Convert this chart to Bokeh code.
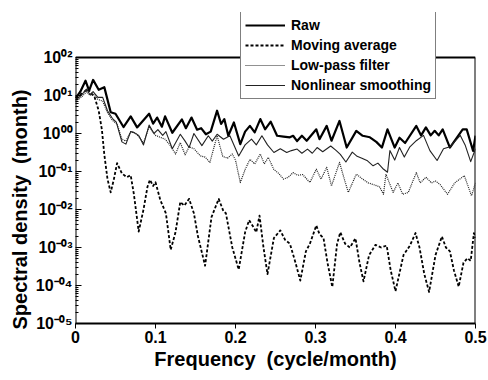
import numpy as np
from bokeh.plotting import figure
from bokeh.models import FixedTicker, Legend, LegendItem, Title
from bokeh.embed import file_html
from bokeh.resources import INLINE

# ---- data (log10 of spectral density) ----
raw_f = [0.000, 0.006, 0.0125, 0.017, 0.022, 0.029, 0.036, 0.044, 0.050, 0.060, 0.069, 0.077,
         0.092, 0.097, 0.102, 0.108, 0.112, 0.121, 0.133, 0.138, 0.145, 0.152, 0.157, 0.163,
         0.169, 0.177, 0.182, 0.186, 0.191, 0.198, 0.206, 0.212, 0.218, 0.224, 0.231, 0.237,
         0.244, 0.252, 0.260, 0.268, 0.272, 0.277, 0.283, 0.289, 0.301, 0.305, 0.314, 0.320,
         0.330, 0.339, 0.351, 0.359, 0.368, 0.376, 0.383, 0.390, 0.399, 0.405, 0.412, 0.426,
         0.432, 0.438, 0.444, 0.449, 0.454, 0.459, 0.468, 0.484, 0.489, 0.497, 0.500]
raw_log10 = [0.92, 1.10, 1.39, 1.13, 1.41, 1.15, 1.22, 0.56, 0.52, 0.17, 0.45, 0.16,
             0.52, 0.26, 0.42, 0.18, 0.45, 0.02, 0.37, 0.14, 0.42, 0.10, 0.14, -0.02,
             0.05, 0.60, 0.25, 0.38, -0.06, 0.29, -0.28, 0.05, 0.20, 0.03, 0.38, 0.11,
             0.31, -0.06, -0.08, -0.10, -0.06, -0.20, -0.06, -0.19, 0.11, -0.15, 0.20, -0.19,
             0.33, -0.37, 0.07, -0.06, -0.10, -0.22, -0.37, 0.11, -0.37, -0.11, -0.25, 0.20,
             -0.05, 0.16, -0.05, 0.07, -0.05, 0.11, -0.37, 0.11, 0.11, -0.46, -0.06]

ma_f = [0.000, 0.008, 0.015, 0.020, 0.024, 0.029, 0.033, 0.036, 0.040, 0.044, 0.048, 0.052,
        0.058, 0.064, 0.069, 0.073, 0.079, 0.085, 0.090, 0.093, 0.097, 0.100, 0.106, 0.113,
        0.119, 0.125, 0.131, 0.136, 0.142, 0.148, 0.153, 0.162, 0.170, 0.179, 0.185, 0.188,
        0.196, 0.204, 0.212, 0.217, 0.222, 0.226, 0.230, 0.235, 0.240, 0.248, 0.256, 0.262,
        0.268, 0.275, 0.281, 0.288, 0.293, 0.301, 0.305, 0.310, 0.315, 0.321, 0.327, 0.331,
        0.337, 0.343, 0.350, 0.355, 0.360, 0.367, 0.375, 0.382, 0.389, 0.394, 0.400, 0.410,
        0.418, 0.425, 0.430, 0.436, 0.442, 0.450, 0.458, 0.463, 0.468, 0.473, 0.479, 0.485,
        0.490, 0.494, 0.498, 0.500]
ma_log10 = [0.96, 1.05, 1.17, 1.05, 0.95, 0.60, 0.10, -0.55, -1.20, -1.55, -1.20, -0.78,
            -1.05, -1.15, -1.10, -1.60, -2.58, -2.00, -1.40, -1.22, -1.38, -1.28, -1.75, -2.10,
            -3.06, -2.60, -1.80, -1.90, -1.72, -2.10, -2.70, -3.48, -2.20, -1.72, -2.05, -2.10,
            -3.00, -3.58, -2.60, -2.28, -2.45, -2.60, -2.16, -3.00, -3.70, -2.75, -2.55, -2.80,
            -2.90, -3.40, -3.87, -3.10, -2.90, -2.42, -2.65, -2.75, -3.40, -4.04, -2.90, -2.60,
            -2.90, -3.00, -2.76, -3.40, -3.89, -3.20, -2.93, -3.00, -2.95, -3.60, -4.15, -3.20,
            -2.95, -2.62, -3.00, -3.70, -4.17, -3.20, -2.71, -3.00, -3.10, -3.60, -4.03, -3.40,
            -3.28, -3.35, -2.62, -2.75]

lp_f = [0.000, 0.007, 0.014, 0.018, 0.022, 0.028, 0.034, 0.040, 0.046, 0.052, 0.058, 0.063,
        0.069, 0.075, 0.080, 0.085, 0.092, 0.100, 0.106, 0.112, 0.118, 0.125, 0.131, 0.137,
        0.142, 0.148, 0.156, 0.162, 0.168, 0.177, 0.184, 0.190, 0.196, 0.200, 0.206, 0.212,
        0.218, 0.224, 0.231, 0.236, 0.241, 0.248, 0.254, 0.260, 0.266, 0.272, 0.278, 0.284,
        0.293, 0.301, 0.307, 0.314, 0.320, 0.330, 0.336, 0.341, 0.351, 0.359, 0.366, 0.373,
        0.380, 0.385, 0.388, 0.397, 0.403, 0.409, 0.416, 0.426, 0.431, 0.438, 0.445, 0.450,
        0.456, 0.465, 0.474, 0.486, 0.495, 0.500]
lp_log10 = [0.85, 0.95, 1.10, 1.00, 1.05, 0.90, 0.85, 0.55, 0.35, 0.25, -0.15, -0.20,
            0.05, 0.00, -0.10, -0.25, 0.18, -0.05, -0.10, -0.15, -0.30, -0.54, -0.24, -0.56,
            -0.35, -0.40, -0.59, -0.62, -0.76, -0.06, -0.60, -0.65, -0.54, -0.70, -1.29, -0.95,
            -0.68, -0.80, -0.54, -0.80, -0.63, -0.95, -1.05, -1.20, -1.15, -1.03, -1.10, -1.08,
            -1.29, -0.94, -1.20, -0.89, -1.38, -0.76, -1.20, -1.55, -1.07, -1.20, -1.30, -1.35,
            -1.40, -1.60, -1.07, -1.55, -1.30, -1.60, -1.55, -1.03, -1.30, -1.15, -1.30, -1.25,
            -1.35, -1.60, -1.30, -1.11, -1.64, -1.30]

nl_f = [0.000, 0.007, 0.014, 0.018, 0.022, 0.028, 0.034, 0.040, 0.046, 0.051, 0.058, 0.063,
        0.069, 0.073, 0.079, 0.085, 0.092, 0.098, 0.103, 0.109, 0.113, 0.121, 0.131, 0.137,
        0.142, 0.148, 0.158, 0.166, 0.171, 0.177, 0.185, 0.193, 0.204, 0.212, 0.220, 0.226,
        0.233, 0.240, 0.248, 0.256, 0.264, 0.270, 0.277, 0.283, 0.290, 0.296, 0.302, 0.309,
        0.319, 0.326, 0.331, 0.338, 0.346, 0.352, 0.358, 0.365, 0.372, 0.378, 0.384, 0.390,
        0.393, 0.399, 0.405, 0.411, 0.418, 0.426, 0.435, 0.443, 0.452, 0.460, 0.468, 0.481,
        0.487, 0.494, 0.500]
nl_log10 = [0.87, 1.00, 1.17, 1.02, 1.10, 0.95, 0.95, 0.60, 0.40, 0.30, -0.22, -0.28,
            0.05, 0.03, -0.05, -0.30, 0.22, 0.00, 0.10, -0.05, 0.05, -0.40, -0.02, -0.20,
            -0.37, 0.00, -0.32, -0.06, -0.20, -0.02, -0.15, -0.06, -0.59, -0.30, -0.15, -0.30,
            -0.06, -0.30, -0.50, -0.40, -0.50, -0.45, -0.41, -0.52, -0.41, -0.52, -0.37, -0.48,
            -0.33, -0.45, -0.55, -0.75, -0.49, -0.60, -0.65, -0.72, -0.85, -0.78, -0.92, -1.02,
            -0.45, -0.70, -0.37, -0.62, -0.35, -0.19, -0.05, -0.45, -0.71, -0.40, -0.35, -0.05,
            -0.30, -0.74, -0.40]

x_ticks = [0.0, 0.1, 0.2, 0.3, 0.4, 0.5]
y_ticks = [1e-5, 1e-4, 1e-3, 1e-2, 1e-1, 1e0, 1e1, 1e2]
y_tick_labels = ["10⁻⁰⁵", "10⁻⁰⁴", "10⁻⁰³", "10⁻⁰²", "10⁻⁰¹", "10⁰⁰", "10⁰¹", "10⁰²"]
series_names = ["Raw", "Moving average", "Low-pass filter", "Nonlinear smoothing"]
x_min, x_max = 0.0, 0.5
y_min, y_max = 1e-5, 1e2

FONT = "Liberation Sans"

# the frame is extended upward so that the legend (which sits above the
# plotted box) is not clipped; the box itself is drawn at y_max
y_top = 10 ** 3.184

p = figure(width=488, height=380, x_range=(x_min, x_max), y_range=(y_min, y_top),
           y_axis_type="log", output_backend="svg", toolbar_location=None,
           min_border_left=75, min_border_right=13, min_border_top=12, min_border_bottom=57)
p.background_fill_color = "white"
p.border_fill_color = "white"
p.outline_line_color = None
p.xgrid.visible = False
p.ygrid.visible = False

# box (left, top, right)
p.segment(x0=[x_min, x_min, x_max], y0=[y_min, y_max, y_min],
          x1=[x_min, x_max, x_max], y1=[y_max, y_max, y_max],
          line_color="black", line_width=2)

r_raw = p.line(raw_f, 10 ** np.array(raw_log10), line_color="black", line_width=2.2,
               line_join="round")
r_ma = p.line(ma_f, 10 ** np.array(ma_log10), line_color="black", line_width=1.8,
              line_dash="3 2", line_join="round")
r_lp = p.line(lp_f, 10 ** np.array(lp_log10), line_color="#222222", line_width=1.2,
              line_dash="1 1", line_join="round")
r_nl = p.line(nl_f, 10 ** np.array(nl_log10), line_color="#222222", line_width=1.1,
              line_join="round")

# axes
p.xaxis.ticker = FixedTicker(ticks=x_ticks)
p.yaxis.ticker = FixedTicker(ticks=y_ticks,
                             minor_ticks=[m * 10.0 ** e for e in range(-5, 2) for m in range(2, 10)])
p.yaxis.major_label_overrides = {t: s for t, s in zip(y_ticks, y_tick_labels)}
for ax in (p.xaxis[0], p.yaxis[0]):
    ax.axis_line_width = 2
    ax.axis_line_color = "black"
    ax.major_label_text_font = FONT
    ax.major_label_text_font_style = "bold"
    ax.major_label_text_color = "black"
    ax.axis_label_text_font = FONT
    ax.axis_label_text_font_style = "bold"
    ax.axis_label_text_color = "black"
p.yaxis.axis_line_color = None
p.xaxis.major_label_text_font_size = "16px"
p.yaxis.major_label_text_font_size = "16px"
p.xaxis.axis_label_text_font_size = "20px"
p.xaxis.major_tick_in = 0
p.xaxis.major_tick_out = 5
p.xaxis.minor_tick_line_color = None
p.yaxis.major_tick_in = 6
p.yaxis.major_tick_out = 0
p.yaxis.minor_tick_in = 3
p.yaxis.minor_tick_out = 0
p.yaxis.major_label_standoff = 3
p.xaxis.major_label_standoff = 2
p.xaxis.axis_label = "Frequency\u00a0\u00a0(cycle/month)"
p.xaxis.axis_label_standoff = 2

# y-axis title: placed as a side title so it can be centred on the plotted box
ytitle = Title(text="Spectral density\u00a0\u00a0(month)", align="left", offset=-6,
               text_font=FONT, text_font_style="bold", text_font_size="20px",
               text_color="black", standoff=3)
p.add_layout(ytitle, "left")

legend = Legend(items=[LegendItem(label=n, renderers=[r]) for n, r in
                       zip(series_names, [r_raw, r_ma, r_lp, r_nl])],
                location=(165, 224))
legend.label_text_font = FONT
legend.label_text_font_style = "bold"
legend.label_text_font_size = "14px"
legend.label_text_color = "black"
legend.glyph_width = 40
legend.glyph_height = 18
legend.label_height = 18
legend.spacing = 2
legend.padding = 4
legend.margin = 0
legend.label_standoff = 6
legend.border_line_color = "black"
legend.border_line_width = 1.5
legend.background_fill_color = "white"
legend.background_fill_alpha = 1
p.add_layout(legend, "center")

open("out.html", "w").write(file_html(p, INLINE))
